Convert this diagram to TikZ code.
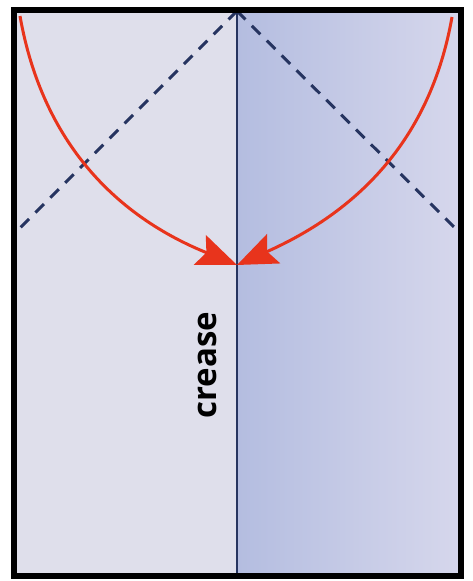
\documentclass[tikz,border=0pt]{standalone}
\usepackage{fontspec}
\setsansfont{Open Sans}
\usetikzlibrary{arrows.meta}
\definecolor{fold_paper}{RGB}{223,223,235}
\definecolor{fold_shade}{RGB}{180,189,224}
\definecolor{fold_shadelt}{RGB}{214,215,236}
\definecolor{fold_red}{RGB}{232,52,28}
\definecolor{fold_navy}{RGB}{38,52,96}

\begin{document}
\begin{tikzpicture}[
  x=1pt,y=1pt,
  frame/.style={draw=black,line width=5.5pt},
  foldline/.style={draw=fold_navy,line width=3pt,dash pattern=on 12pt off 9pt},
  creaseline/.style={draw=fold_navy,line width=1.5pt},
  arrow/.style={draw=fold_red,line width=3pt,
                -{Stealth[length=40pt,width=32pt,inset=7pt]}}
]
\useasboundingbox (0,0) rectangle (473,581);
% paper, right half shaded
\fill[fold_paper] (14,5) rectangle (461,571);
\shade[left color=fold_shade,right color=fold_shadelt] (237,5) rectangle (461,571);
\coordinate (top) at (237,570);
\coordinate (bot) at (237,6);
\coordinate (tl) at (20,565);
\coordinate (tr) at (452,564);
\coordinate (meet) at (237,316);
\coordinate (lside) at (16,349);
\coordinate (rside) at (459,349);
\draw[creaseline] (top) -- (bot);
\draw[foldline] (top) -- (lside);
\draw[foldline] (top) -- (rside);
\draw[arrow] (tl) to[out=-80,in=158] (meet);
\draw[arrow] (tr) to[out=-100,in=24] (meet);
\node[rotate=90,font=\sffamily\bfseries\fontsize{33}{33}\selectfont] (lbl) at (207,216) {crease};
\draw[frame] (14,5) rectangle (461,571);
\end{tikzpicture}
\end{document}
